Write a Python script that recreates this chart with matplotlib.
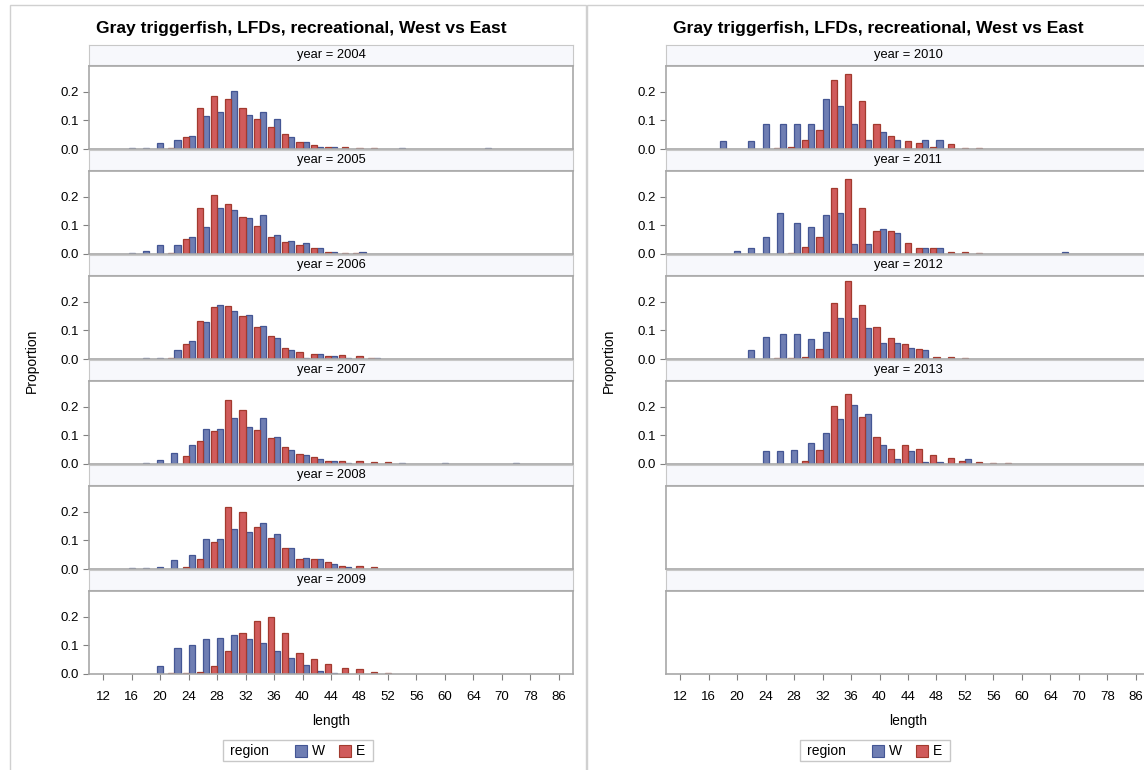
import matplotlib
matplotlib.use('Agg')
import matplotlib.pyplot as plt
from matplotlib.patches import Rectangle
import numpy as np

plt.rcParams['font.family'] = ['Liberation Sans', 'DejaVu Sans']

# length categories (discrete axis)
lengths = [12, 14, 16, 18, 20, 22, 24, 26, 28, 30, 32, 34, 36, 38, 40, 42, 44, 46, 48,
           50, 52, 54, 56, 58, 60, 62, 64, 66, 70, 74, 78, 82, 86]

left_years = [2004, 2005, 2006, 2007, 2008, 2009]
right_years = [2010, 2011, 2012, 2013]

#          12  14  16    18    20    22    24    26    28    30    32    34    36    38    40    42    44    46    48    50    52  54    56  58  60    62  64  66    70  74    78  82  86
w2004 = [0, 0, .004, .004, .020, .030, .046, .115, .129, .201, .119, .131, .106, .042, .024, .007, .007, 0, 0, 0, 0, .004, 0, 0, 0, 0, 0, .004, 0, 0, 0, 0, 0]
e2004 = [0, 0, 0, 0, 0, .004, .042, .145, .185, .176, .145, .106, .077, .051, .024, .015, .007, .007, .004, .004, 0, 0, 0, 0, 0, 0, 0, 0, 0, 0, 0, 0, 0]
w2005 = [0, 0, .004, .012, .033, .033, .061, .095, .160, .154, .125, .137, .068, .046, .039, .021, .007, 0, .007, 0, 0, 0, 0, 0, 0, 0, 0, 0, 0, 0, 0, 0, 0]
e2005 = [0, 0, 0, 0, 0, .004, .051, .160, .206, .176, .129, .099, .060, .042, .033, .021, .007, .004, .004, 0, 0, 0, 0, 0, 0, 0, 0, 0, 0, 0, 0, 0, 0]
w2006 = [0, 0, 0, .004, .004, .030, .064, .129, .189, .168, .155, .115, .073, .030, .004, .018, .012, .004, 0, .004, 0, 0, 0, 0, 0, 0, 0, 0, 0, 0, 0, 0, 0]
e2006 = [0, 0, 0, 0, 0, .004, .051, .133, .181, .185, .151, .111, .082, .039, .024, .018, .010, .013, .010, .004, 0, 0, 0, 0, 0, 0, 0, 0, 0, 0, 0, 0, 0]
w2007 = [0, 0, 0, .004, .013, .040, .065, .123, .123, .161, .131, .161, .096, .048, .031, .018, .010, .004, 0, 0, 0, .004, 0, 0, .004, 0, 0, 0, 0, .004, 0, 0, 0]
e2007 = [0, 0, 0, 0, 0, 0, .027, .081, .115, .224, .189, .120, .090, .061, .035, .026, .010, .010, .010, .007, .007, 0, 0, 0, 0, 0, 0, 0, 0, 0, 0, 0, 0]
w2008 = [0, 0, .004, .004, .008, .032, .048, .105, .105, .139, .131, .161, .123, .074, .040, .036, .019, .006, 0, 0, 0, 0, 0, 0, 0, 0, 0, 0, 0, 0, 0, 0, 0]
e2008 = [0, 0, 0, 0, 0, 0, .006, .036, .095, .217, .200, .146, .108, .074, .036, .036, .024, .012, .010, .006, 0, 0, 0, 0, 0, 0, 0, 0, 0, 0, 0, 0, 0]
w2009 = [0, 0, 0, 0, .027, .092, .100, .121, .125, .137, .121, .108, .081, .056, .030, .012, .004, 0, 0, 0, 0, 0, 0, 0, 0, 0, 0, 0, 0, 0, 0, 0, 0]
e2009 = [0, 0, 0, 0, 0, .005, .005, .008, .027, .079, .143, .186, .198, .145, .073, .052, .034, .022, .017, .008, .005, 0, 0, 0, 0, 0, 0, 0, 0, 0, 0, 0, 0]
w2010 = [0, 0, 0, .029, 0, .029, .089, .089, .089, .089, .175, .149, .089, .030, .060, .030, 0, .030, .030, 0, 0, 0, 0, 0, 0, 0, 0, 0, 0, 0, 0, 0, 0]
e2010 = [0, 0, 0, 0, 0, 0, 0, .004, .008, .030, .068, .240, .262, .167, .089, .045, .029, .021, .008, .017, .004, .004, 0, 0, 0, 0, 0, 0, 0, 0, 0, 0, 0]
w2011 = [0, 0, 0, 0, .012, .021, .061, .145, .107, .095, .137, .145, .035, .035, .086, .073, 0, .021, .021, 0, 0, 0, 0, 0, 0, 0, 0, .008, 0, 0, 0, 0, 0]
e2011 = [0, 0, 0, 0, 0, 0, 0, 0, .004, .026, .061, .229, .262, .160, .081, .081, .038, .021, .021, .008, .008, .004, 0, 0, 0, 0, 0, 0, 0, 0, 0, 0, 0]
w2012 = [0, 0, 0, 0, 0, .030, .077, .087, .087, .069, .095, .142, .142, .107, .056, .056, .039, .030, 0, 0, 0, 0, 0, 0, 0, 0, 0, 0, 0, 0, 0, 0, 0]
e2012 = [0, 0, 0, 0, 0, 0, 0, .004, .004, .008, .035, .194, .271, .189, .111, .073, .051, .035, .008, .008, .004, 0, 0, 0, 0, 0, 0, 0, 0, 0, 0, 0, 0]
w2013 = [0, 0, 0, 0, 0, 0, .044, .044, .048, .074, .107, .156, .207, .173, .065, .018, .044, .008, .008, 0, .018, 0, 0, 0, 0, 0, 0, 0, 0, 0, 0, 0, 0]
e2013 = [0, 0, 0, 0, 0, 0, 0, 0, 0, .012, .048, .202, .245, .163, .095, .054, .065, .054, .030, .020, .012, .008, .005, .005, 0, 0, 0, 0, 0, 0, 0, 0, 0]

west = {2004: w2004, 2005: w2005, 2006: w2006, 2007: w2007, 2008: w2008, 2009: w2009,
        2010: w2010, 2011: w2011, 2012: w2012, 2013: w2013}
east = {2004: e2004, 2005: e2005, 2006: e2006, 2007: e2007, 2008: e2008, 2009: e2009,
        2010: e2010, 2011: e2011, 2012: e2012, 2013: e2013}

title = 'Gray triggerfish, LFDs, recreational, West vs East'

W_FILL, W_EDGE = '#6F7EB3', '#445694'
E_FILL, E_EDGE = '#D05B5B', '#A23A2E'
FRAME = '#A8A8A8'
STRIP_EDGE = '#C8C8C8'
STRIP_FACE = '#F7F8FC'

FW, FH = 1144, 770
fig = plt.figure(figsize=(FW / 100, FH / 100), dpi=100)


def box(x0, y0, x1, y1):
    return [x0 / FW, 1 - y1 / FH, (x1 - x0) / FW, (y1 - y0) / FH]


def draw_bars(ax, wv, ev, bw=0.43):
    wv = np.array(wv)
    ev = np.array(ev)
    x = np.arange(len(lengths))
    both = (wv > 0) & (ev > 0)
    # clustered side by side when both regions present, centred otherwise
    xw = np.where(both, x + bw / 2, x)
    xe = np.where(both, x - bw / 2, x)
    mw = wv > 0
    me = ev > 0
    ax.bar(xw[mw], wv[mw], width=bw, color=W_FILL, edgecolor=W_EDGE, linewidth=0.9)
    ax.bar(xe[me], ev[me], width=bw, color=E_FILL, edgecolor=E_EDGE, linewidth=0.9)


def draw_column(x0, x1, years, shift):
    # outer frame of this graph
    fig.add_artist(Rectangle(((10 + shift) / FW, -0.05), 576 / FW, 1 - 5 / FH + 0.05,
                             transform=fig.transFigure, fill=False, ec='#D0D0D0', lw=1))
    fig.text((301 + shift) / FW, 1 - 28 / FH, title, ha='center', va='center',
             fontsize=12.6, fontweight='bold')
    for k in range(6):
        top = 45 + 105 * k
        sax = fig.add_axes(box(x0, top, x1, top + 20))
        sax.set_facecolor(STRIP_FACE)
        sax.set_xticks([])
        sax.set_yticks([])
        for s in sax.spines.values():
            s.set_color(STRIP_EDGE)
        if k < len(years):
            sax.text(0.5, 0.5, 'year = %d' % years[k], ha='center', va='center',
                     fontsize=9.3, transform=sax.transAxes)

        ax = fig.add_axes(box(x0, top + 21, x1, top + 104))
        for s in ax.spines.values():
            s.set_color(FRAME)
            s.set_linewidth(1.2)
        ax.set_xlim(-1, len(lengths))
        ax.set_ylim(0, 0.29)
        ax.tick_params(colors='#808080', labelcolor='black', labelsize=9.5, length=4)
        if k < len(years):
            draw_bars(ax, west[years[k]], east[years[k]])
            ax.set_yticks([0, 0.1, 0.2])
            ax.set_yticklabels(['0.0', '0.1', '0.2'])
        else:
            ax.set_yticks([])
        idx = list(range(0, len(lengths), 2))
        ax.set_xticks(idx)
        if k == 5:
            ax.set_xticklabels([str(lengths[i]) for i in idx])
            ax.tick_params(axis='x', pad=8)
        else:
            ax.tick_params(axis='x', length=0, labelbottom=False)

    cx = (x0 + x1) / 2
    fig.text(cx / FW, 1 - 721 / FH, 'length', ha='center', va='center', fontsize=10)
    fig.text((32 + shift) / FW, 1 - 361 / FH, 'Proportion', ha='center', va='center',
             rotation=90, fontsize=10)

    # legend
    fig.add_artist(Rectangle(((223 + shift) / FW, 1 - 761 / FH), 150 / FW, 21 / FH,
                             transform=fig.transFigure, fill=False, ec=STRIP_EDGE, lw=1))
    fig.text((230 + shift) / FW, 1 - 751 / FH, 'region', ha='left', va='center', fontsize=10)
    for sx, tx, lab, fc, ec in [(295, 312, 'W', W_FILL, W_EDGE), (339, 356, 'E', E_FILL, E_EDGE)]:
        fig.add_artist(Rectangle(((sx + shift) / FW, 1 - 757 / FH), 12 / FW, 12 / FH,
                                 transform=fig.transFigure, fc=fc, ec=ec, lw=0.8))
        fig.text((tx + shift) / FW, 1 - 751 / FH, lab, ha='left', va='center', fontsize=10)


draw_column(89, 573, left_years, 0)
draw_column(666, 1150, right_years, 577)

fig.savefig('out.png', dpi=100)
